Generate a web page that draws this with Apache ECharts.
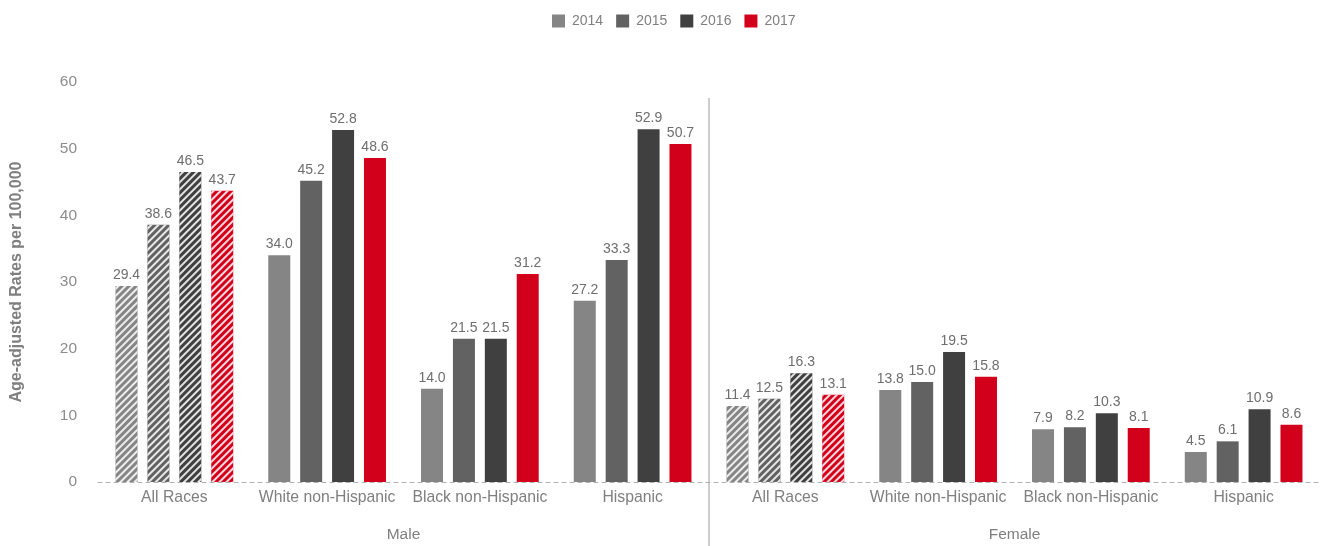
<!DOCTYPE html>
<html><head><meta charset="utf-8">
<script src="https://cdn.jsdelivr.net/npm/echarts@6/dist/echarts.min.js"></script>
<style>html,body{margin:0;padding:0;background:#fff}#c{width:1335px;height:546px}</style>
</head><body><div id="c"></div>
<script>
var categories = ['All Races','White non-Hispanic','Black non-Hispanic','Hispanic','All Races','White non-Hispanic','Black non-Hispanic','Hispanic'];
var groups = ['Male','Female'];
var years = ['2014','2015','2016','2017'];
var v2014 = [29.4, 34.0, 14.0, 27.2, 11.4, 13.8, 7.9, 4.5];
var v2015 = [38.6, 45.2, 21.5, 33.3, 12.5, 15.0, 8.2, 6.1];
var v2016 = [46.5, 52.8, 21.5, 52.9, 16.3, 19.5, 10.3, 10.9];
var v2017 = [43.7, 48.6, 31.2, 50.7, 13.1, 15.8, 8.1, 8.6];
var hatchedCategoryIndex = [0, 4];
var yTicks = [0, 10, 20, 30, 40, 50, 60];

var colors = ['#858585', '#626262', '#404040', '#d3001b'];
var values = [v2014, v2015, v2016, v2017];

var hatch = {
  color: 'rgba(255,255,255,0.85)',
  dashArrayX: [1, 0],
  dashArrayY: [2, 3],
  rotation: -Math.PI / 4,
  symbolSize: 1
};

var series = years.map(function (y, si) {
  return {
    name: y,
    type: 'bar',
    barWidth: 22,
    barGap: '45%',
    itemStyle: { color: colors[si] },
    label: {
      show: true, position: 'top', distance: 4,
      color: '#6e6e6e', fontSize: 14, fontFamily: 'Liberation Sans',
      formatter: function (p) { return Number(p.value).toFixed(1); }
    },
    data: values[si].map(function (v, i) {
      if (hatchedCategoryIndex.indexOf(i) >= 0) {
        return { value: v, itemStyle: { color: colors[si], decal: hatch } };
      }
      return v;
    })
  };
});

var chart = echarts.init(document.getElementById('c'));
chart.setOption({
  animation: false,
  textStyle: { fontFamily: 'Liberation Sans' },
  color: colors,
  legend: {
    top: 9, left: 547, itemWidth: 13, itemHeight: 13, itemGap: 13,
    icon: 'rect',
    textStyle: { color: '#808080', fontSize: 14, padding: [0, 0, 0, 2] },
    data: years
  },
  grid: { left: 98, right: 15, top: 82, bottom: 64 },
  xAxis: [{
    type: 'category', data: categories,
    axisLine: { show: true, lineStyle: { color: '#b0b0b0', type: [4, 4], width: 1 } },
    axisTick: { show: false },
    axisLabel: { color: '#7f7f7f', fontSize: 15.75, margin: 8, interval: 0 }
  }, {
    type: 'category', data: groups, position: 'bottom', offset: 38,
    axisLine: { show: false }, axisTick: { show: false },
    axisLabel: { color: '#7f7f7f', fontSize: 15.5, margin: 7 }
  }],
  yAxis: {
    type: 'value', min: 0, max: 60, interval: 10,
    name: 'Age-adjusted Rates per 100,000', nameLocation: 'middle', nameGap: 73,
    nameTextStyle: { color: '#7f7f7f', fontSize: 16, fontWeight: 'bold' },
    axisLine: { show: false }, axisTick: { show: false },
    axisLabel: { color: '#8c8c8c', fontSize: 15.5, margin: 21 },
    splitLine: { show: false }
  },
  graphic: [{
    type: 'line', shape: { x1: 709, y1: 98, x2: 709, y2: 546 },
    style: { stroke: '#9a9a9a', lineWidth: 1 }
  }],
  series: series
});
</script></body></html>
